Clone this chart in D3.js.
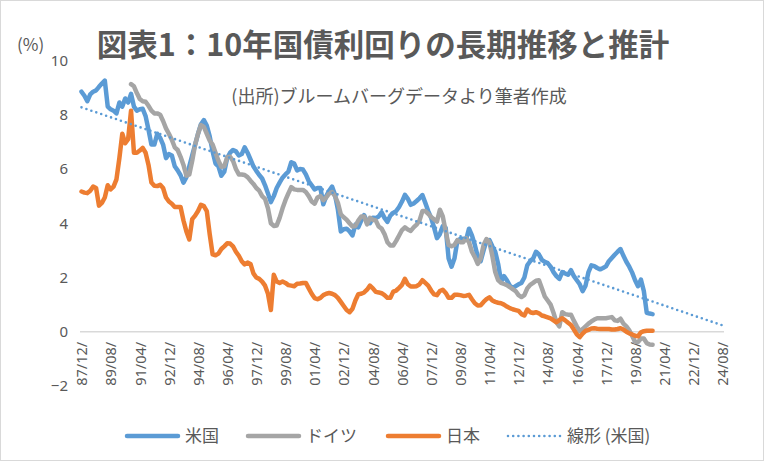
<!DOCTYPE html>
<html><head><meta charset="utf-8">
<script src="https://cdn.jsdelivr.net/npm/d3@7/dist/d3.min.js"></script>
<style>body{margin:0;background:#fff}svg{display:block}</style>
</head><body>
<svg id="chart" width="764" height="461"></svg>
<script>
// categories: every 2 months from 87/12 to 24/08
const catStart = 1987 * 12 + 11; // Dec 1987 (0-based month)
const catCount = 221;
const categories = d3.range(catCount).map(i => {
  const m = catStart + i * 2;
  return String(Math.floor(m / 12) % 100).padStart(2, "0") + "/" + String(m % 12 + 1).padStart(2, "0") + "/";
});
const tickLabels = ["87/12/","89/08/","91/04/","92/12/","94/08/","96/04/","97/12/","99/08/","01/04/","02/12/","04/08/","06/04/","07/12/","09/08/","11/04/","12/12/","14/08/","16/04/","17/12/","19/08/","21/04/","22/12/","24/08/"];
const yTicks = [-2, 0, 2, 4, 6, 8, 10];

const usYield = [8.85,8.7,8.5,8.75,8.85,8.9,9.03,9.15,9.26,8.3,
 8.2,8.15,8.05,8.45,8.3,8.6,8.45,8.77,8.3,8.15,
 8.2,8.22,7.95,7.45,6.9,6.9,7.3,7.15,6.9,6.4,
 6.55,6.5,6.1,5.95,5.77,5.5,5.7,6.1,6.5,6.9,
 7.3,7.65,7.8,7.6,7.2,6.65,6.2,6.1,5.75,5.9,
 6.4,6.6,6.7,6.65,6.5,6.55,6.8,6.6,6.35,6.1,
 5.93,5.78,5.65,5.4,5.1,4.78,5.0,5.3,5.5,5.68,
 5.8,5.9,6.25,6.2,5.95,6.0,5.98,5.8,5.55,5.4,
 5.25,5.3,5.3,4.7,5.0,5.2,5.35,5.05,4.5,3.7,
 3.78,3.8,3.7,3.55,3.95,3.85,4.1,4.3,4.05,4.0,
 4.2,4.19,4.25,4.4,4.2,4.05,4.28,4.38,4.45,4.6,
 4.8,5.05,4.9,4.68,4.73,4.82,4.92,5.04,4.75,4.45,
 4.2,3.85,3.45,3.6,3.9,3.83,2.7,2.4,2.7,3.35,
 3.42,3.43,3.39,3.8,3.55,3.2,2.77,2.6,3.0,3.35,
 3.38,3.15,2.95,2.5,1.85,2.05,1.9,1.7,1.61,1.68,
 1.75,1.8,2.0,2.45,2.6,2.7,2.95,2.85,2.65,2.58,
 2.53,2.4,2.2,2.05,1.95,2.2,2.15,2.1,2.27,2.05,
 1.9,1.75,1.5,1.7,2.2,2.45,2.42,2.35,2.3,2.35,
 2.41,2.6,2.72,2.84,2.95,3.05,2.8,2.58,2.4,2.18,
 1.9,1.68,1.92,1.5,0.7,0.67,0.65];

const deYield = [null,null,null,null,null,null,null,null,null,null,
 null,null,null,null,null,null,null,9.13,9.05,8.8,
 8.58,8.5,8.48,8.33,8.15,8.05,8.05,8.0,7.77,7.5,
 7.3,7.08,6.8,6.7,6.45,6.15,5.75,5.8,6.3,6.9,
 7.3,7.62,7.55,7.3,7.05,6.9,6.6,6.3,6.08,6.1,
 6.43,6.45,6.3,6.0,5.8,5.8,5.78,5.7,5.57,5.45,
 5.3,5.2,5.0,4.9,4.55,4.0,3.9,3.92,4.2,4.55,
 4.85,5.1,5.33,5.25,5.23,5.23,5.23,5.15,5.0,4.8,
 4.72,4.95,5.0,4.85,4.95,5.1,5.15,5.0,4.75,4.33,
 4.22,4.13,4.0,3.88,3.9,4.1,4.25,4.25,3.96,4.2,
 4.13,4.1,3.88,3.8,3.6,3.3,3.18,3.18,3.35,3.55,
 3.75,3.85,3.77,3.72,3.85,3.95,4.1,4.45,4.45,4.35,
 4.23,4.15,4.06,4.5,4.25,3.7,3.2,3.15,3.2,3.38,
 3.3,3.3,3.45,3.3,2.95,2.75,2.5,2.7,3.2,3.42,
 3.3,2.8,2.2,1.9,1.8,1.76,1.72,1.65,1.57,1.5,
 1.35,1.28,1.35,1.6,1.73,1.8,1.88,1.9,1.6,1.3,
 1.15,1.0,0.7,0.35,0.2,0.72,0.65,0.63,0.63,0.4,
 0.2,0.02,0.1,0.2,0.3,0.38,0.45,0.5,0.5,0.5,
 0.5,0.52,0.54,0.42,0.4,0.48,0.3,0.2,0.05,-0.15,
 -0.38,-0.38,-0.25,-0.25,-0.42,-0.47,-0.48];

const jpYield = [5.17,5.13,5.11,5.2,5.35,5.3,4.65,4.75,4.95,5.4,
 5.25,5.35,5.62,6.4,7.3,6.95,7.1,8.15,6.6,6.6,
 6.68,6.78,6.6,6.15,5.5,5.38,5.37,5.42,5.3,4.95,
 4.8,4.72,4.6,4.6,4.6,4.1,3.7,3.4,4.15,4.28,
 4.45,4.68,4.63,4.45,3.6,2.85,2.82,2.88,3.05,3.15,
 3.26,3.25,3.15,2.95,2.8,2.6,2.48,2.55,2.5,2.15,
 2.0,1.95,1.85,1.7,1.4,0.8,2.1,1.85,1.8,1.85,
 1.8,1.72,1.7,1.68,1.77,1.78,1.8,1.8,1.6,1.4,
 1.24,1.2,1.25,1.35,1.4,1.43,1.4,1.35,1.25,1.1,
 0.95,0.8,0.72,0.85,1.15,1.38,1.4,1.45,1.55,1.7,
 1.6,1.47,1.45,1.42,1.35,1.25,1.25,1.48,1.52,1.62,
 1.73,1.95,1.75,1.67,1.67,1.68,1.75,1.9,1.8,1.7,
 1.52,1.38,1.35,1.5,1.55,1.43,1.25,1.25,1.36,1.36,
 1.35,1.32,1.33,1.36,1.2,1.05,0.97,0.98,1.1,1.2,
 1.27,1.15,1.1,1.07,1.05,1.0,0.93,0.87,0.83,0.8,
 0.77,0.65,0.6,0.82,0.72,0.69,0.72,0.68,0.6,0.57,
 0.53,0.49,0.42,0.35,0.43,0.5,0.42,0.33,0.25,0.08,
 -0.1,-0.2,-0.07,0.03,0.07,0.12,0.13,0.11,0.1,0.1,
 0.1,0.1,0.08,0.08,0.1,0.13,0.08,0.0,-0.06,-0.1,
 -0.15,-0.17,-0.02,0.02,0.04,0.04,0.04];

const seriesNames = ["米国", "ドイツ", "日本", "線形 (米国)"];
const seriesColors = ["#5B9BD5", "#A5A5A5", "#ED7D31", "#5B9BD5"];

const svg = d3.select("#chart");
const txt = "#595959";
const cjk = "'Noto Sans CJK JP','Noto Sans',sans-serif";

svg.append("rect").attr("x", 0.5).attr("y", 0.5).attr("width", 763).attr("height", 460)
  .attr("fill", "#fff").attr("stroke", "#D9D9D9");

const x = d3.scalePoint().domain(d3.range(catCount)).range([81.5, 722.5]);
const y = d3.scaleLinear().domain([-2, 10]).range([386, 60.5]);

// zero line
svg.append("line").attr("x1", 80).attr("x2", 724).attr("y1", y(0)).attr("y2", y(0))
  .attr("stroke", "#D9D9D9").attr("stroke-width", 1.3);

// y axis
const ya = svg.append("g").attr("transform", "translate(68,0)")
  .call(d3.axisLeft(y).tickValues(yTicks).tickSize(0).tickPadding(0).tickFormat(d3.format("d")));
ya.select(".domain").remove();
ya.selectAll("text").attr("fill", txt).style("font-family", "'Noto Sans',sans-serif").style("font-size", "15px");

// x axis
const tickIdx = tickLabels.map(l => categories.indexOf(l));
const xa = svg.append("g").attr("transform", `translate(0,${y(0)})`)
  .call(d3.axisBottom(x).tickValues(tickIdx).tickSize(0).tickFormat(i => categories[i]));
xa.select(".domain").remove();
xa.selectAll("text")
  .attr("transform", "rotate(-90)")
  .attr("x", -10).attr("y", 0).attr("dy", "0.36em")
  .attr("text-anchor", "end")
  .attr("fill", txt).style("font-family", "'Noto Sans',sans-serif").style("font-size", "14.5px");

// lines
const line = d3.line().defined(d => d != null).x((d, i) => x(i)).y(d => y(d));
const allSeries = [usYield, deYield, jpYield];
allSeries.forEach((s, k) => {
  svg.append("path").datum(s).attr("d", line).attr("fill", "none")
    .attr("stroke", seriesColors[k]).attr("stroke-width", 4.5)
    .attr("stroke-linejoin", "round").attr("stroke-linecap", "round");
});

// linear trendline of US, forecast to last category
const idx = d3.range(usYield.length);
const mx = d3.mean(idx), my = d3.mean(usYield);
const slope = d3.sum(idx, i => (i - mx) * (usYield[i] - my)) / d3.sum(idx, i => (i - mx) ** 2);
const icpt = my - slope * mx;
const trendEnds = [0, catCount - 1];
svg.append("path").datum(trendEnds)
  .attr("d", d3.line().x(i => x(i)).y(i => y(icpt + slope * i)))
  .attr("fill", "none").attr("stroke", seriesColors[3]).attr("stroke-width", 2.6)
  .attr("stroke-dasharray", "0 5.2").attr("stroke-linecap", "round");

// title & notes
svg.append("text").attr("x", 383).attr("y", 56).attr("text-anchor", "middle")
  .attr("fill", txt).style("font-family", cjk).style("font-weight", "bold").style("font-size", "30.5px")
  .text("図表1：10年国債利回りの長期推移と推計");
svg.append("text").attr("x", 17).attr("y", 51).attr("fill", txt)
  .style("font-family", cjk).style("font-size", "17px").text("(%)");
svg.append("text").attr("x", 399).attr("y", 103).attr("text-anchor", "middle").attr("fill", txt)
  .style("font-family", cjk).style("font-size", "18px").text("(出所)ブルームバーグデータより筆者作成");

// legend
const legX = [125, 246, 386, 507];
const legY = 436;
seriesNames.forEach((n, k) => {
  const g = svg.append("g");
  if (k < 3) {
    g.append("line").attr("x1", legX[k] + 2).attr("x2", legX[k] + 53).attr("y1", legY).attr("y2", legY)
      .attr("stroke", seriesColors[k]).attr("stroke-width", 4.5).attr("stroke-linecap", "round");
  } else {
    g.append("line").attr("x1", legX[k] + 1).attr("x2", legX[k] + 55).attr("y1", legY).attr("y2", legY)
      .attr("stroke", seriesColors[k]).attr("stroke-width", 2.6).attr("stroke-dasharray", "0 5.2").attr("stroke-linecap", "round");
  }
  g.append("text").attr("x", legX[k] + 60).attr("y", legY).attr("dy", "0.35em").attr("fill", txt)
    .style("font-family", cjk).style("font-size", "17px").text(n);
});
</script>
</body></html>
